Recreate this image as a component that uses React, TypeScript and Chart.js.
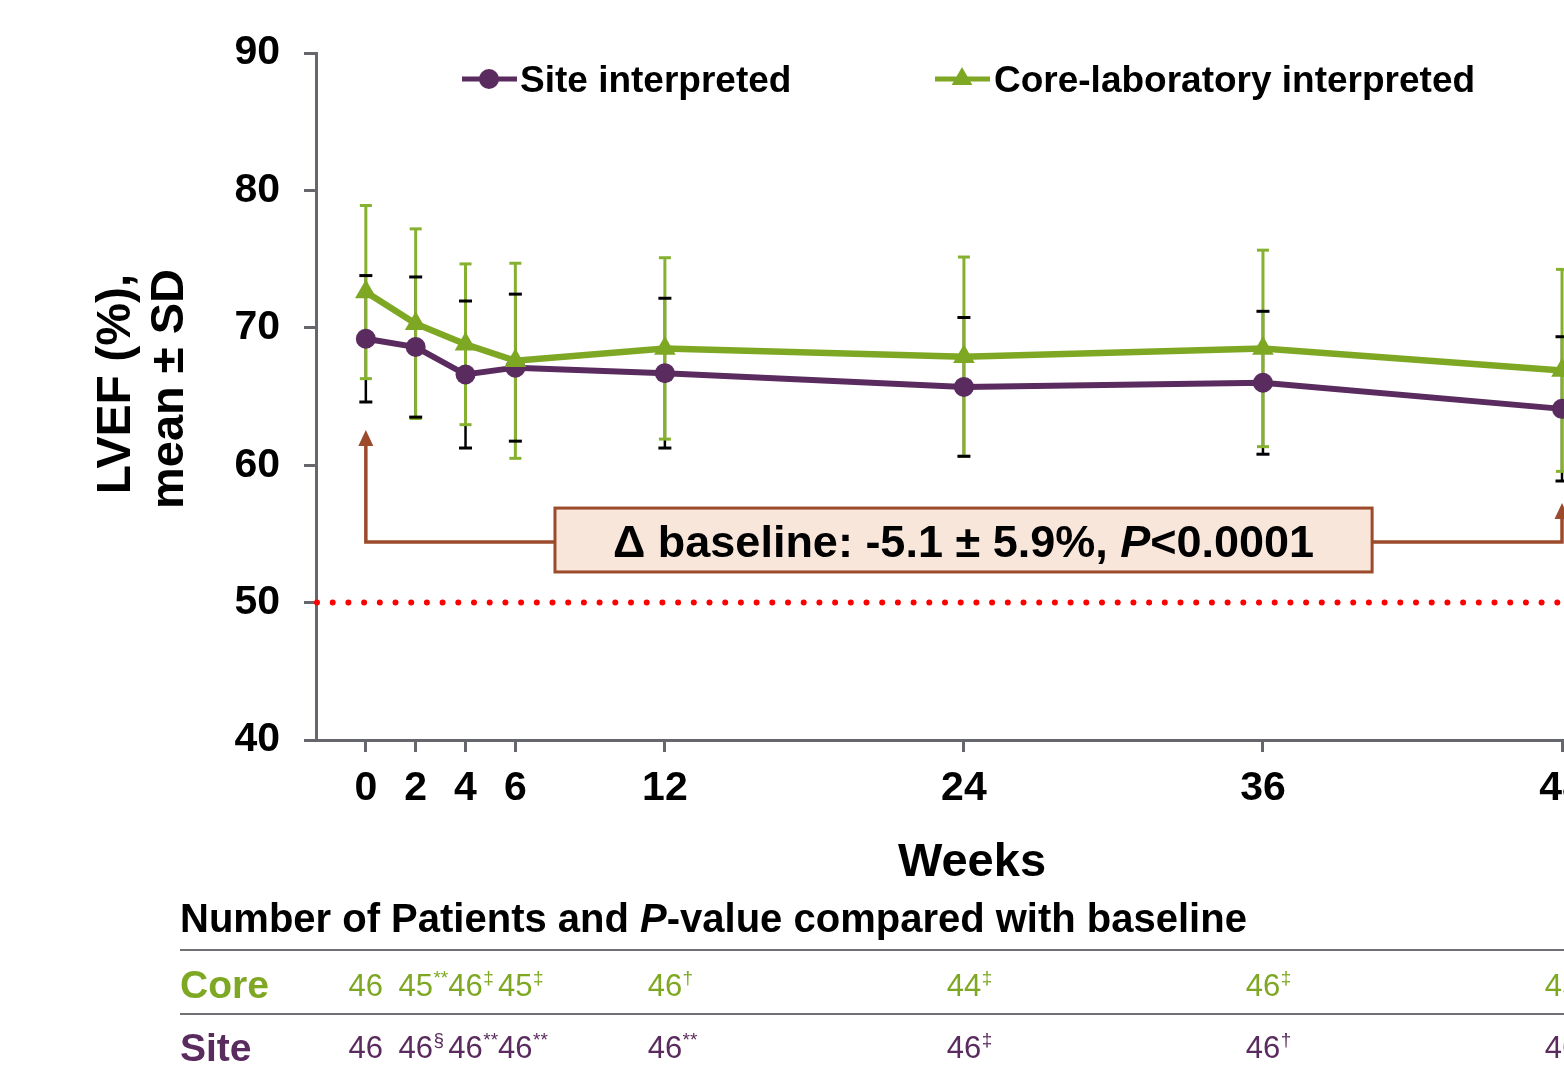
import React, { useEffect, useRef } from 'react';
import { Chart, registerables } from 'chart.js';

Chart.register(...registerables);

// ---------------- data ----------------
const weeks = [0, 2, 4, 6, 12, 24, 36, 48];
const siteMean = [69.2, 68.6, 66.6, 67.1, 66.7, 65.7, 66.0, 64.1];
const siteSD = [4.6, 5.1, 5.35, 5.35, 5.45, 5.05, 5.2, 5.25];
const coreMean = [72.6, 70.3, 68.8, 67.6, 68.5, 67.9, 68.5, 66.9];
const coreSD = [6.3, 6.9, 5.85, 7.1, 6.6, 7.25, 7.15, 7.35];
const yTicks = [40, 50, 60, 70, 80, 90];
const threshold = 50;
const coreN = ['46', '45', '46', '45', '46', '44', '46', '45'];
const coreSup = ['', '**', '‡', '‡', '†', '‡', '‡', ''];
const siteN = ['46', '46', '46', '46', '46', '46', '46', '46'];
const siteSup = ['', '§', '**', '**', '**', '‡', '†', ''];
const seriesLabels = ['Site interpreted', 'Core-laboratory interpreted'];
const rowLabels = ['Core', 'Site'];
const yTitle = ['LVEF (%),', 'mean ± SD'];
const xTitle = 'Weeks';
const annotationParts = ['Δ baseline: -5.1 ± 5.9%, ', 'P', '<0.0001'];
const tableTitleParts = ['Number of Patients and ', 'P', '-value compared with baseline'];

// ---------------- styles ----------------
const FONT = '"Liberation Sans", Arial, Helvetica, sans-serif';
const PURPLE = '#5A2B5E';
const GREEN = '#7EA823';
const GREEN_ERR = '#86B130';
const AXIS = '#66676C';
const BROWN = '#9B4B2B';
const BOX_FILL = '#F9E6DB';

// annotation geometry (data coordinates)
const ANN = {
  leftWeek: 0,
  rightWeek: 48,
  leftTip: 62.56,
  rightTip: 57.25,
  bracket: 54.41,
  boxX0: 7.59,
  boxX1: 40.38,
  boxY0: 56.88,
  boxY1: 52.23,
};

export default function App() {
  const ref = useRef<HTMLCanvasElement>(null);

  useEffect(() => {
    const canvas = ref.current;
    if (!canvas) return;

    const overlay = {
      id: 'overlay',
      beforeDatasetsDraw(chart: any) {
        const { ctx, chartArea } = chart;
        const x = chart.scales.x;
        const y = chart.scales.y;
        // red dotted threshold line
        ctx.save();
        ctx.strokeStyle = '#FF0000';
        ctx.lineWidth = 6;
        ctx.lineCap = 'round';
        ctx.setLineDash([0, 15.7]);
        ctx.beginPath();
        const ty = y.getPixelForValue(threshold);
        ctx.moveTo(chartArea.left + 1, ty);
        ctx.lineTo(chartArea.right + 20, ty);
        ctx.stroke();
        ctx.restore();

        const vline = (means: number[], sds: number[], color: string, w: number) => {
          ctx.save();
          ctx.strokeStyle = color;
          ctx.lineWidth = w;
          weeks.forEach((wk, i) => {
            const px = x.getPixelForValue(wk);
            ctx.beginPath();
            ctx.moveTo(px, y.getPixelForValue(means[i] + sds[i]));
            ctx.lineTo(px, y.getPixelForValue(means[i] - sds[i]));
            ctx.stroke();
          });
          ctx.restore();
        };
        const caps = (means: number[], sds: number[], color: string, w: number, half: number) => {
          ctx.save();
          ctx.strokeStyle = color;
          ctx.lineWidth = w;
          weeks.forEach((wk, i) => {
            const px = x.getPixelForValue(wk);
            [means[i] + sds[i], means[i] - sds[i]].forEach((v) => {
              const py = y.getPixelForValue(v);
              ctx.beginPath();
              ctx.moveTo(px - half, py);
              ctx.lineTo(px + half, py);
              ctx.stroke();
            });
          });
          ctx.restore();
        };
        vline(siteMean, siteSD, '#000000', 2.5);
        vline(coreMean, coreSD, GREEN_ERR, 3);
        caps(coreMean, coreSD, GREEN_ERR, 3, 6);
        caps(siteMean, siteSD, '#000000', 3, 6.5);
      },
      afterDraw(chart: any) {
        const { ctx } = chart;
        const x = chart.scales.x;
        const y = chart.scales.y;

        // ---- annotation bracket ----
        ctx.save();
        ctx.strokeStyle = BROWN;
        ctx.fillStyle = BROWN;
        ctx.lineWidth = 3.5;
        const lx = x.getPixelForValue(ANN.leftWeek);
        const rx = x.getPixelForValue(ANN.rightWeek);
        const by = y.getPixelForValue(ANN.bracket);
        const ltip = y.getPixelForValue(ANN.leftTip);
        const rtip = y.getPixelForValue(ANN.rightTip);
        const bx0 = x.getPixelForValue(ANN.boxX0);
        const bx1 = x.getPixelForValue(ANN.boxX1);
        const by0 = y.getPixelForValue(ANN.boxY0);
        const by1 = y.getPixelForValue(ANN.boxY1);
        ctx.beginPath();
        ctx.moveTo(lx, ltip + 12);
        ctx.lineTo(lx, by);
        ctx.lineTo(bx0, by);
        ctx.moveTo(bx1, by);
        ctx.lineTo(rx, by);
        ctx.lineTo(rx, rtip + 12);
        ctx.stroke();
        const head = (px: number, tip: number) => {
          ctx.beginPath();
          ctx.moveTo(px, tip);
          ctx.lineTo(px - 7.5, tip + 16);
          ctx.lineTo(px + 7.5, tip + 16);
          ctx.closePath();
          ctx.fill();
        };
        head(lx, ltip);
        head(rx, rtip);
        ctx.fillStyle = BOX_FILL;
        ctx.fillRect(bx0, by0, bx1 - bx0, by1 - by0);
        ctx.lineWidth = 3;
        ctx.strokeRect(bx0, by0, bx1 - bx0, by1 - by0);
        // text
        const fB = `bold 45px ${FONT}`;
        const fBI = `italic bold 45px ${FONT}`;
        const fonts = [fB, fBI, fB];
        let total = 0;
        const widths = annotationParts.map((t, i) => {
          ctx.font = fonts[i];
          const w = ctx.measureText(t).width;
          total += w;
          return w;
        });
        let cx = (bx0 + bx1) / 2 - total / 2;
        ctx.fillStyle = '#000';
        ctx.textBaseline = 'alphabetic';
        ctx.textAlign = 'left';
        annotationParts.forEach((t, i) => {
          ctx.font = fonts[i];
          ctx.fillText(t, cx, (by0 + by1) / 2 + 17);
          cx += widths[i];
        });
        ctx.restore();

        // ---- legend ----
        ctx.save();
        const ly = 79;
        ctx.lineWidth = 5;
        ctx.strokeStyle = PURPLE;
        ctx.beginPath();
        ctx.moveTo(462, ly);
        ctx.lineTo(517, ly);
        ctx.stroke();
        ctx.fillStyle = PURPLE;
        ctx.beginPath();
        ctx.arc(489, ly, 10, 0, Math.PI * 2);
        ctx.fill();
        ctx.strokeStyle = GREEN;
        ctx.beginPath();
        ctx.moveTo(935, ly);
        ctx.lineTo(990, ly);
        ctx.stroke();
        ctx.fillStyle = GREEN;
        const tr = 12;
        ctx.beginPath();
        ctx.moveTo(962, ly - tr);
        ctx.lineTo(962 + tr * 0.866, ly + tr * 0.5);
        ctx.lineTo(962 - tr * 0.866, ly + tr * 0.5);
        ctx.closePath();
        ctx.fill();
        ctx.fillStyle = '#000';
        ctx.font = `bold 37px ${FONT}`;
        ctx.textBaseline = 'alphabetic';
        ctx.textAlign = 'left';
        ctx.fillText(seriesLabels[0], 520, ly + 13);
        ctx.fillText(seriesLabels[1], 994, ly + 13);
        ctx.restore();

        // ---- y title ----
        ctx.save();
        ctx.fillStyle = '#000';
        ctx.textAlign = 'center';
        ctx.textBaseline = 'alphabetic';
        [
          { bx: 130, cy: 384, size: 48 },
          { bx: 183, cy: 389, size: 47 },
        ].forEach((l, i) => {
          ctx.save();
          ctx.font = `bold ${l.size}px ${FONT}`;
          ctx.translate(l.bx, l.cy);
          ctx.rotate(-Math.PI / 2);
          ctx.fillText(yTitle[i], 0, 0);
          ctx.restore();
        });
        ctx.restore();

        // ---- x title ----
        ctx.save();
        ctx.fillStyle = '#000';
        ctx.font = `bold 47px ${FONT}`;
        ctx.textAlign = 'center';
        ctx.textBaseline = 'alphabetic';
        ctx.fillText(xTitle, 972, 876);
        ctx.restore();

        // ---- table ----
        ctx.save();
        ctx.fillStyle = '#000';
        ctx.textAlign = 'left';
        ctx.textBaseline = 'alphabetic';
        const tFonts = [`bold 40px ${FONT}`, `italic bold 40px ${FONT}`, `bold 40px ${FONT}`];
        let tx = 180;
        tableTitleParts.forEach((t, i) => {
          ctx.font = tFonts[i];
          ctx.fillText(t, tx, 932);
          tx += ctx.measureText(t).width;
        });
        ctx.strokeStyle = '#707075';
        ctx.lineWidth = 2;
        [950, 1014].forEach((ly2) => {
          ctx.beginPath();
          ctx.moveTo(180, ly2);
          ctx.lineTo(1600, ly2);
          ctx.stroke();
        });
        const rows = [
          { label: rowLabels[0], color: GREEN, n: coreN, sup: coreSup, lb: 998, nb: 996 },
          { label: rowLabels[1], color: PURPLE, n: siteN, sup: siteSup, lb: 1061, nb: 1058 },
        ];
        rows.forEach((r) => {
          ctx.fillStyle = r.color;
          ctx.font = `bold 39px ${FONT}`;
          ctx.textAlign = 'left';
          ctx.fillText(r.label, 180, r.lb);
          weeks.forEach((wk, i) => {
            const px = x.getPixelForValue(wk);
            ctx.font = `31px ${FONT}`;
            const w = ctx.measureText(r.n[i]).width;
            ctx.textAlign = 'left';
            ctx.fillText(r.n[i], px - w / 2, r.nb);
            if (r.sup[i]) {
              ctx.font = `19px ${FONT}`;
              ctx.fillText(r.sup[i], px + w / 2 + 0.5, r.nb - 12);
            }
          });
        });
        ctx.restore();
      },
    };

    const chart = new Chart(canvas, {
      type: 'line',
      data: {
        datasets: [
          {
            label: seriesLabels[0],
            data: weeks.map((w, i) => ({ x: w, y: siteMean[i] })),
            borderColor: PURPLE,
            backgroundColor: PURPLE,
            borderWidth: 6,
            pointStyle: 'circle',
            pointRadius: 10,
            pointBorderWidth: 0,
            pointBackgroundColor: PURPLE,
            tension: 0,
            order: 1,
            clip: false,
          } as any,
          {
            label: seriesLabels[1],
            data: weeks.map((w, i) => ({ x: w, y: coreMean[i] })),
            borderColor: GREEN,
            backgroundColor: GREEN,
            borderWidth: 6.5,
            pointStyle: 'triangle',
            pointRadius: 12.5,
            pointBorderWidth: 0,
            pointBackgroundColor: GREEN,
            tension: 0,
            order: 0,
            clip: false,
          } as any,
        ],
      },
      options: {
        responsive: false,
        animation: false,
        events: [],
        layout: { autoPadding: false, padding: { top: 53, left: 0, right: 0, bottom: 0 } },
        plugins: {
          legend: { display: false },
          tooltip: { enabled: false },
          title: { display: false },
        },
        scales: {
          x: {
            type: 'linear',
            min: -2,
            max: 48.08,
            afterBuildTicks: (s: any) => {
              s.ticks = weeks.map((v) => ({ value: v }));
            },
            afterFit: (s: any) => {
              s.height = 336;
              s.paddingLeft = 0;
              s.paddingRight = 0;
            },
            grid: {
              drawOnChartArea: false,
              drawTicks: true,
              tickLength: 12,
              tickWidth: 3,
              tickColor: AXIS,
              color: AXIS,
            },
            border: { display: true, color: AXIS, width: 3 },
            ticks: {
              color: '#000',
              font: { family: FONT, size: 41, weight: 'bold' },
              padding: 12,
              maxRotation: 0,
              autoSkip: false,
            },
          },
          y: {
            type: 'linear',
            min: 40,
            max: 90,
            afterBuildTicks: (s: any) => {
              s.ticks = yTicks.map((v) => ({ value: v }));
            },
            afterFit: (s: any) => {
              s.width = 316;
              s.paddingTop = 0;
              s.paddingBottom = 0;
            },
            grid: {
              drawOnChartArea: false,
              drawTicks: true,
              tickLength: 12,
              tickWidth: 3,
              tickColor: AXIS,
              color: AXIS,
            },
            border: { display: true, color: AXIS, width: 3 },
            ticks: {
              color: '#000',
              font: { family: FONT, size: 41, weight: 'bold' },
              padding: 24,
              autoSkip: false,
            },
          },
        },
      } as any,
      plugins: [overlay],
    });

    return () => chart.destroy();
  }, []);

  return (
    <div
      style={{
        position: 'fixed',
        left: 0,
        top: 0,
        width: 1564,
        height: 1076,
        overflow: 'hidden',
        background: '#fff',
      }}
    >
      <canvas ref={ref} width={1564} height={1076} style={{ display: 'block' }} />
    </div>
  );
}
